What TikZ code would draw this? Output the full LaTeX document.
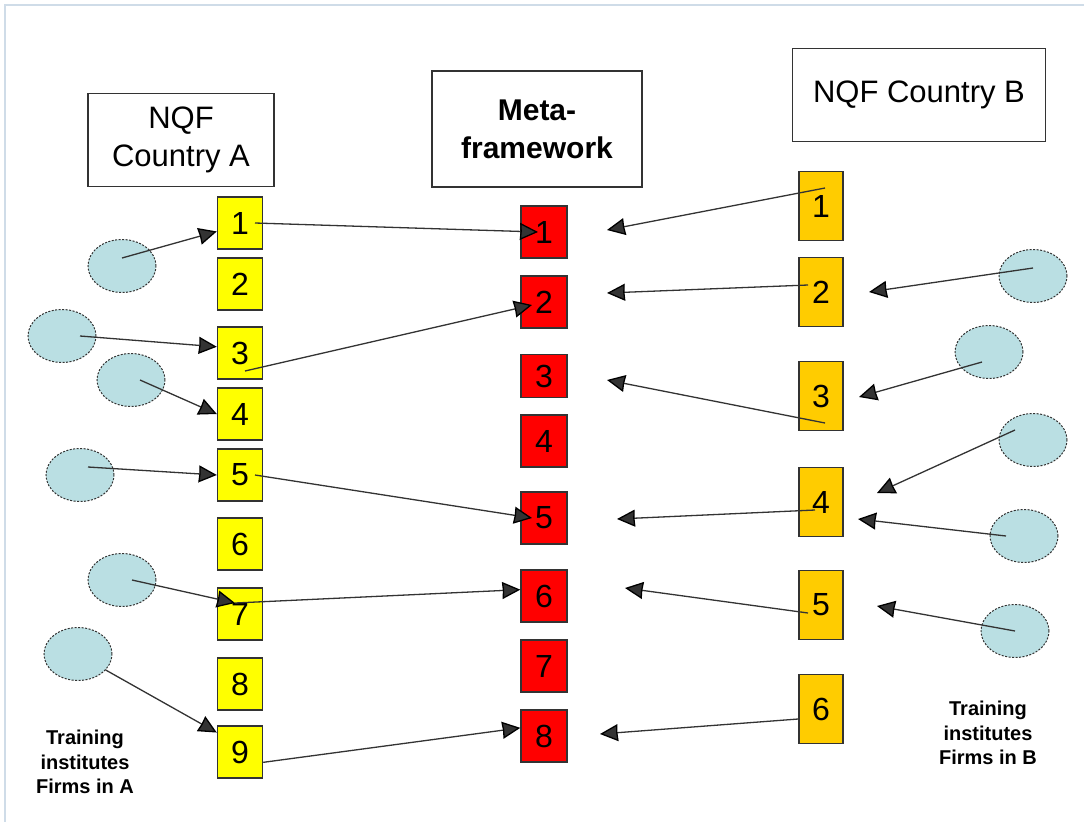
\documentclass[tikz,border=0pt]{standalone}
\usepackage{fontspec}
\setmainfont{Liberation Sans}
\usetikzlibrary{arrows.meta, shapes.geometric, positioning}

\definecolor{nqfA}{HTML}{FFFF00}
\definecolor{meta}{HTML}{FF0000}
\definecolor{nqfB}{HTML}{FFCC00}
\definecolor{firm}{HTML}{BADFE3}
\definecolor{edgegray}{HTML}{333333}
\definecolor{pageline}{HTML}{CFDCE8}

\begin{document}
\begin{tikzpicture}[x=1pt, y=-1pt, >={Stealth[length=18pt, width=17pt, inset=0.5pt, color=black]}]
    \tikzstyle{header} = [draw=edgegray, line width=1.5pt, align=center, font=\fontsize{31}{38}\selectfont]
    \tikzstyle{level} = [draw=edgegray, line width=1.4pt, inner sep=0pt, font=\fontsize{32}{38}\selectfont]
    \tikzstyle{levelA} = [level, fill=nqfA, minimum width=45pt, minimum height=52pt]
    \tikzstyle{levelM} = [level, fill=meta, minimum width=46pt, minimum height=52pt]
    \tikzstyle{levelB} = [level, fill=nqfB, minimum width=44pt, minimum height=69pt]
    \tikzstyle{firmnode} = [ellipse, draw=edgegray, dash pattern=on 2pt off 1.5pt, line width=1pt, fill=firm, minimum width=68pt, minimum height=53pt]
    \tikzstyle{caption} = [align=center, font=\bfseries\fontsize{20}{24.5}\selectfont]

    \useasboundingbox (0,0) rectangle (1084,825);
    \draw[pageline, line width=1.2pt] (1084,5) -- (5,5) -- (5,822);

    \begin{scope}
        \path
            node[header, minimum width=186pt, minimum height=93pt] (hA) at (181,140) {NQF\\Country A}
            node[header, minimum width=210pt, minimum height=116pt, font=\bfseries\fontsize{30}{38}\selectfont] (hM) at (537,129) {Meta-\\framework}
            node[header, minimum width=253pt, minimum height=93pt] (hB) at (919,95) {NQF Country B}

            node[levelA] (a1) at (240,223) {1}
            node[levelA] (a2) at (240,284) {2}
            node[levelA] (a3) at (240,353) {3}
            node[levelA] (a4) at (240,414) {4}
            node[levelA] (a5) at (240,475) {5}
            node[levelA] (a6) at (240,544) {6}
            node[levelA] (a7) at (240,614) {7}
            node[levelA] (a8) at (240,684) {8}
            node[levelA] (a9) at (240,752) {9}

            node[levelM] (m1) at (544,232) {1}
            node[levelM] (m2) at (544,302) {2}
            node[levelM, minimum height=43pt] (m3) at (544,376) {3}
            node[levelM] (m4) at (544,441) {4}
            node[levelM] (m5) at (544,518) {5}
            node[levelM] (m6) at (544,596) {6}
            node[levelM] (m7) at (544,666) {7}
            node[levelM] (m8) at (544,736) {8}

            node[levelB] (b1) at (821,206) {1}
            node[levelB] (b2) at (821,292) {2}
            node[levelB] (b3) at (821,396) {3}
            node[levelB] (b4) at (821,502) {4}
            node[levelB] (b5) at (821,605) {5}
            node[levelB] (b6) at (821,709) {6}

            node[firmnode] (ea1) at (122,266) {}
            node[firmnode] (ea2) at (62,336) {}
            node[firmnode] (ea3) at (131,380) {}
            node[firmnode] (ea4) at (80,475) {}
            node[firmnode] (ea5) at (122,580) {}
            node[firmnode] (ea6) at (78,654) {}

            node[firmnode] (eb1) at (1033,276) {}
            node[firmnode] (eb2) at (989,352) {}
            node[firmnode] (eb3) at (1033,440) {}
            node[firmnode] (eb4) at (1024,536) {}
            node[firmnode] (eb5) at (1015,631) {}

            node[caption] (capA) at (85,762) {Training\\institutes\\Firms in A}
            node[caption] (capB) at (988,733) {Training\\institutes\\Firms in B}
        ;

        % free arrow ends beside the meta-framework and country B levels
        \coordinate (a7in) at ([shift={(-5pt,11pt)}]a7.center);
        \coordinate (t1) at (607,230);
        \coordinate (t2) at (607,293);
        \coordinate (t3) at (607,380);
        \coordinate (t4) at (617,519);
        \coordinate (t5) at (625,588);
        \coordinate (t6) at (600,734);
        \coordinate (u1) at (869,292);
        \coordinate (u2) at (859,397);
        \coordinate (u3) at (877,493);
        \coordinate (u4) at (858,519);
        \coordinate (u5) at (877,606);

        \path[->, edgegray, line width=1.3pt]
            ([yshift=8pt]ea1.center) edge (a1.200)
            ([xshift=18pt]ea2.center) edge (a3.165)
            ([xshift=9pt]ea3.center) edge (a4.west)
            ([shift={(8pt,8pt)}]ea4.center) edge (a5.west)
            ([xshift=10pt]ea5.center) edge (a7in)
            (ea6.-30) edge (a9.140)

            ([xshift=15pt]a1.center) edge ([xshift=-6pt]m1.center)
            ([shift={(5pt,-18pt)}]a3.center) edge ([shift={(-12pt,-3pt)}]m2.center)
            ([xshift=15pt]a5.center) edge ([xshift=-12pt]m5.center)
            (a7in) edge (m6.165)
            (a9.-24) edge (m8.161)

            ([shift={(4pt,18pt)}]b1.center) edge (t1)
            ([shift={(-13pt,7pt)}]b2.center) edge (t2)
            ([shift={(4pt,-27pt)}]b3.center) edge (t3)
            ([shift={(-6pt,-8pt)}]b4.center) edge (t4)
            ([shift={(-13pt,-8pt)}]b5.center) edge (t5)
            ([yshift=-10pt]b6.west) edge (t6)

            ([yshift=8pt]eb1.center) edge (u1)
            ([shift={(-7pt,-10pt)}]eb2.center) edge (u2)
            ([shift={(-18pt,10pt)}]eb3.center) edge (u3)
            ([xshift=-18pt]eb4.center) edge (u4)
            (eb5.center) edge (u5)
        ;
    \end{scope}
\end{tikzpicture}
\end{document}
